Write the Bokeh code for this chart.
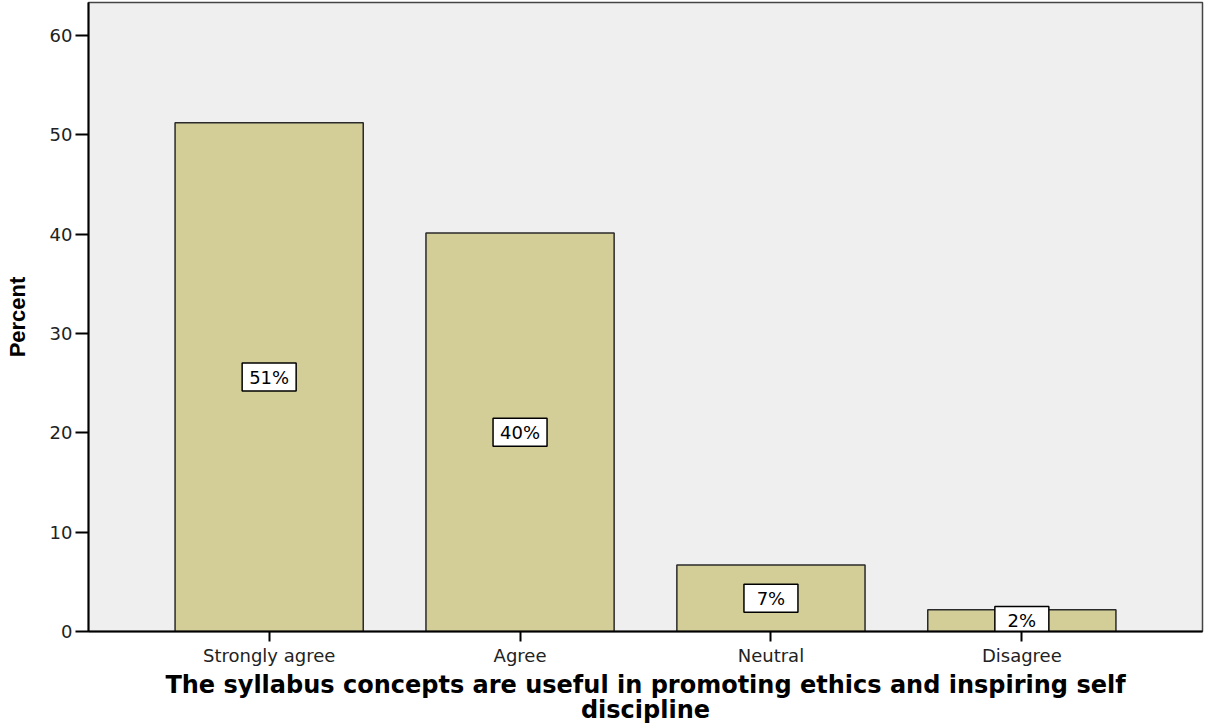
from bokeh.plotting import figure
from bokeh.models import FactorRange, Range1d, FixedTicker, ColumnDataSource
from bokeh.core.properties import value
from bokeh.embed import file_html
from bokeh.resources import INLINE

categories = ["Strongly agree", "Agree", "Neutral", "Disagree"]
percents = [51.2, 40.1, 6.7, 2.2]
labels = ["51%", "40%", "7%", "2%"]
y_ticks = [0, 10, 20, 30, 40, 50, 60]
x_title = "The syllabus concepts are useful in promoting ethics and inspiring self\ndiscipline"
y_title = "Percent"

src = ColumnDataSource(dict(cat=categories, top=percents,
                            mid=[v / 2 for v in percents], lab=labels))

p = figure(width=1205, height=728, output_backend="svg", toolbar_location=None,
           x_range=FactorRange(factors=categories, range_padding=0.11),
           y_range=Range1d(0, 63.3),
           min_border_left=88, min_border_right=3, min_border_top=2, min_border_bottom=97)

p.background_fill_color = "#EFEFEF"
p.border_fill_color = "white"
p.outline_line_color = "#444444"
p.outline_line_width = 1.5
p.grid.visible = False

p.vbar(x="cat", top="top", width=0.75, source=src,
       fill_color="#D3CE98", line_color="#2a2a2a", line_width=1.5)

p.rect(x="cat", y="mid", width=54, height=28, width_units="screen", height_units="screen",
       source=src, fill_color="white", line_color="black", line_width=1.5)
p.text(x="cat", y="mid", text="lab", source=src, text_align="center", text_baseline="middle",
       text_font=value("DejaVu Sans"), text_font_size="18px", text_color="black")

font = "DejaVu Sans"
p.yaxis.ticker = FixedTicker(ticks=y_ticks)
p.yaxis.axis_label = y_title
p.xaxis.axis_label = x_title
for ax in (p.xaxis[0], p.yaxis[0]):
    ax.axis_line_color = "black"
    ax.axis_line_width = 2
    ax.major_tick_line_color = "black"
    ax.major_tick_line_width = 2
    ax.major_tick_in = 0
    ax.minor_tick_line_color = None
    ax.major_label_text_font = font
    ax.major_label_text_font_size = "18px"
    ax.major_label_text_color = "#222222"
    ax.axis_label_text_color = "black"
    ax.axis_label_text_font_style = "bold"

p.yaxis.major_tick_out = 13
p.yaxis.major_label_standoff = 3
p.yaxis.axis_label_text_font = "Liberation Sans"
p.yaxis.axis_label_text_font_size = "22px"
p.yaxis.axis_label_standoff = 17

p.xaxis.major_tick_out = 10
p.xaxis.major_label_standoff = 3
p.xaxis.axis_label_text_font = "DejaVu Sans"
p.xaxis.axis_label_text_font_size = "24px"
p.xaxis.axis_label_standoff = 2
p.xaxis.axis_label_text_line_height = 0.9

open("out.html", "w").write(file_html(p, INLINE))
